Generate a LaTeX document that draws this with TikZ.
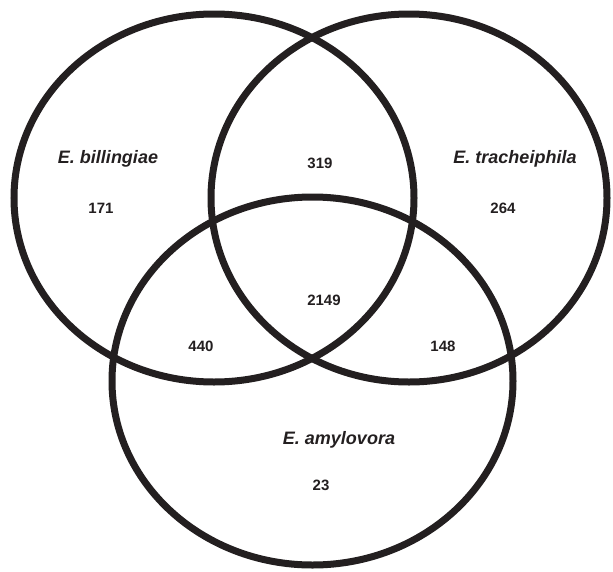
\documentclass[tikz,border=0pt]{standalone}
\usepackage{fontspec}
\setmainfont{Liberation Sans}
\definecolor{ink}{HTML}{231F20}
\begin{document}
\begin{tikzpicture}[x=1pt,y=-1pt,
  ring/.style={draw=ink,line width=7pt},
  species/.style={font=\fontsize{18}{20}\selectfont\bfseries\itshape,text=ink,anchor=base,inner sep=0pt},
  count/.style={font=\fontsize{15}{17}\selectfont\bfseries,text=ink,anchor=base,inner sep=0pt}]
\useasboundingbox (0,0) rectangle (613,571);
\coordinate (cbil) at (214,198);
\coordinate (ctra) at (409,198);
\coordinate (camy) at (312.5,381);
\draw[ring] (cbil) ellipse [x radius=200, y radius=184];
\draw[ring] (ctra) ellipse [x radius=198, y radius=184];
\draw[ring] (camy) ellipse [x radius=200.5, y radius=184];
\node[species] (lbil) at (108,163.4) {E. billingiae};
\node[species] (ltra) at (515,163.4) {E. tracheiphila};
\node[species] (lamy) at (339,444.4) {E. amylovora};
\node[count] (n171) at (101,213.4) {171};
\node[count] (n319) at (320,168.4) {319};
\node[count] (n264) at (503,213.4) {264};
\node[count] (n2149) at (324,305.4) {2149};
\node[count] (n440) at (201,351.4) {440};
\node[count] (n148) at (443,351.4) {148};
\node[count] (n23) at (321,490.4) {23};
\end{tikzpicture}
\end{document}
